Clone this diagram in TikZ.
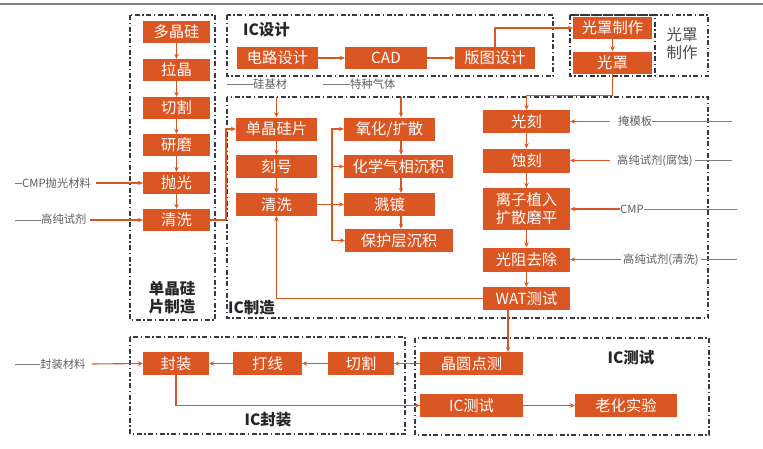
\documentclass[tikz,border=0pt]{standalone}
\usepackage{fontspec}
\setmainfont{Noto Sans CJK SC}
\usetikzlibrary{arrows.meta}
\definecolor{org}{RGB}{218,86,34}
\definecolor{dsh}{RGB}{55,58,70}
\definecolor{gry}{RGB}{95,95,95}
\begin{document}
\begin{tikzpicture}[x=1pt,y=-1pt,
  box/.style={fill=org,text=white,inner sep=0pt,font=\fontsize{15.3}{17}\selectfont,minimum height=23pt},
  region/.style={draw=dsh,line width=1.1pt,dash pattern=on 5pt off 2.5pt on 1.5pt off 2.5pt},
  arr/.style={draw=org,line width=1.1pt,-{Stealth[length=5pt,width=4.5pt]}},
  gl/.style={draw=gry!80,line width=0.8pt},
  inp/.style={text=gry,font=\fontsize{11.3}{12}\selectfont,inner sep=0pt},
  lab/.style={font=\bfseries\fontsize{15.5}{18}\selectfont,text=black!85,inner sep=0pt,align=center}]
\useasboundingbox (0,0) rectangle (763,448);
\fill[white] (0,0) rectangle (763,448);
% top rule
\coordinate (tl) at (0,4); \coordinate (tr) at (763,4);
\draw[gray,line width=1.6pt] (tl) -- (tr);

% dashed regions
\draw[region] (130,15) rectangle (215,320);
\draw[region] (227,15) rectangle (553,76);
\draw[region] (570,15) rectangle (708,76);
\draw[region,draw=black!80,line width=1.3pt] (570,15) rectangle (655,76);
\draw[region] (227,97) rectangle (708,318);
\draw[region] (130,337) rectangle (405,434);
\draw[region] (415,338) rectangle (709,435);

% labels
\node[lab] (l1) at (172,298) {单晶硅\\片制造};
\node[lab,anchor=west] (l2) at (243,30) {IC设计};
\node[inp,text=black!70,font=\fontsize{15.5}{18}\selectfont,align=center] (l3) at (682,44) {光罩\\制作};
\node[lab,anchor=west] (l4) at (228,308) {IC制造};
\node[lab] (l5) at (268,420) {IC封装};
\node[lab] (l6) at (631,358) {IC测试};

% single crystal column
\node[box,minimum width=67pt,minimum height=22pt] (pc1) at (176.5,32) {多晶硅};
\node[box,minimum width=67pt,minimum height=22pt] (pc2) at (176.5,70) {拉晶};
\node[box,minimum width=67pt,minimum height=22pt] (pc3) at (176.5,108) {切割};
\node[box,minimum width=67pt,minimum height=22pt] (pc4) at (176.5,145) {研磨};
\node[box,minimum width=67pt,minimum height=22pt] (pc5) at (176.5,183) {抛光};
\node[box,minimum width=67pt,minimum height=22pt] (pc6) at (176.5,220) {清洗};
\draw[arr] (pc1) -- (pc2);
\draw[arr] (pc2) -- (pc3);
\draw[arr] (pc3) -- (pc4);
\draw[arr] (pc4) -- (pc5);
\draw[arr] (pc5) -- (pc6);

% left inputs
\coordinate (g1) at (15,183);
\node[inp,anchor=west] (in1) at (22,183) {CMP抛光材料};
\draw[gl] (g1) -- (in1.west);
\draw[arr] ([xshift=5pt]in1.east) -- (pc5.west);
\coordinate (g2) at (15,220);
\node[inp,anchor=west] (in2) at (41,219) {高纯试剂};
\draw[gl] (g2) -- (in2.west |- g2);
\draw[arr] ([xshift=3pt]in2.east |- g2) -- (pc6.west);

% IC design
\node[box,minimum width=81pt,minimum height=22pt] (d1) at (277.5,58) {电路设计};
\node[box,minimum width=82pt,minimum height=22pt] (d2) at (386,58) {CAD};
\node[box,minimum width=80pt,minimum height=22pt] (d3) at (495,58) {版图设计};
\draw[arr] (d1) -- (d2);
\draw[arr] (d2) -- (d3);

% mask
\node[box,minimum width=79pt,minimum height=22pt] (m1) at (612.5,28) {光罩制作};
\node[box,minimum width=79pt,minimum height=22pt] (m2) at (612.5,62.5) {光罩};
\draw[arr] (d3.north) |- (m1.west);
\draw[arr] (m1) -- (m2);

% IC manufacturing column A
\node[box,minimum width=81pt] (a1) at (276.5,129) {单晶硅片};
\node[box,minimum width=81pt] (a2) at (276.5,166.5) {刻号};
\node[box,minimum width=81pt] (a3) at (276.5,204.5) {清洗};
\draw[arr] (a1) -- (a2);
\draw[arr] (a2) -- (a3);
\coordinate (j1) at (226,220);
\draw[org,line width=1.1pt] (pc6.east) -- (j1);
\draw[arr] (j1) |- (a1.west);

% substrate / gas inputs
\coordinate (s0) at (227,84);
\node[inp,anchor=west] (s1) at (253,84) {硅基材};
\draw[gl] (s0) -- (s1.west);
\coordinate (s2) at (276.5,97);
\draw[arr] (s2) -- (a1.north);
\coordinate (t0) at (323,84);
\node[inp,anchor=west] (t1) at (350,84) {特种气体};
\draw[gl] (t0) -- (t1.west);
\coordinate (t2) at (401,97);

% column B
\node[box,minimum width=91pt] (b1) at (389.5,129) {氧化/扩散};
\node[box,minimum width=109pt] (b2) at (398.5,166.5) {化学气相沉积};
\node[box,minimum width=91pt] (b3) at (389.5,204.5) {溅镀};
\node[box,minimum width=108pt] (b4) at (399,240.5) {保护层沉积};
\draw[arr] (t2) -- (t2 |- b1.north);
\coordinate (xb) at (401,0);
\draw[arr] (b1.south -| xb) -- (b2.north -| xb);
\draw[arr] (b2.south -| xb) -- (b3.north -| xb);
\draw[arr] (b3.south -| xb) -- (b4.north -| xb);
\coordinate (jb) at (332,204.5);
\draw[arr] (a3.east) -- (b3.west);
\draw[arr] (jb) |- (b1.west);
\draw[arr] (jb) |- (b2.west);
\draw[arr] (jb) |- (b4.west);

% column C
\node[box,minimum width=87pt] (c1) at (526.5,121.5) {光刻};
\node[box,minimum width=87pt,minimum height=24pt] (c2) at (526.5,160.5) {蚀刻};
\node[box,minimum width=87pt,minimum height=42pt,align=center,font=\fontsize{15.3}{18}\selectfont] (c3) at (526.5,209) {离子植入\\扩散磨平};
\node[box,minimum width=87pt,minimum height=24pt] (c4) at (526.5,259.5) {光阻去除};
\node[box,minimum width=87pt] (c5) at (526.5,298.5) {WAT测试};
\draw[arr] (m2.south) -- ++(0,22) -| (c1.north);
\draw[arr] (c1) -- (c2);
\draw[arr] (c2) -- (c3);
\draw[arr] (c3) -- (c4);
\draw[arr] (c4) -- (c5);
\draw[arr] (c5.west) -| (a3.south);

% right inputs
\node[inp,anchor=west] (r1) at (618,121.5) {掩模板};
\coordinate (re1) at (732,121.5);
\draw[arr] ([xshift=-8pt]r1.west) -- (c1.east);
\draw[gl] (r1.east) -- (re1);
\node[inp,anchor=west] (r2) at (617,160.5) {高纯试剂(腐蚀)};
\coordinate (re2) at (732,160.5);
\draw[arr] ([xshift=-7pt]r2.west) -- (c2.east);
\draw[gl] ([xshift=2pt]r2.east) -- (re2);
\node[inp,anchor=west] (r3) at (620,209) {CMP};
\coordinate (re3) at (737,209);
\draw[arr] (r3.west) -- (c3.east);
\draw[gl] (r3.east) -- (re3);
\node[inp,anchor=west] (r4) at (623,259.5) {高纯试剂(清洗)};
\coordinate (re4) at (737,259.5);
\draw[arr] ([xshift=-2pt]r4.west) -- (c4.east);
\draw[gl] ([xshift=2pt]r4.east) -- (re4);

% test and packaging
\node[box,minimum width=103pt] (w1) at (471.5,363.5) {晶圆点测};
\node[box,minimum width=103pt] (w2) at (471.5,405.5) {IC测试};
\node[box,minimum width=102pt] (w3) at (626,405.5) {老化实验};
\node[box,minimum width=66pt] (k1) at (361,363.5) {切割};
\node[box,minimum width=69pt] (k2) at (267.5,363.5) {打线};
\node[box,minimum width=66pt] (k3) at (176,363.5) {封装};
\coordinate (xw) at (508,0);
\draw[arr] (c5.south -| xw) -- (w1.north -| xw);
\draw[arr] (w1) -- (k1);
\draw[arr] (k1) -- (k2);
\draw[arr] (k2) -- (k3);
\draw[arr] (k3.south) |- (w2.west);
\draw[arr] (w2) -- (w3);
\coordinate (g3) at (15,364);
\node[inp,anchor=west] (in3) at (40,364) {封装材料};
\draw[gl] (g3) -- (in3.west);
\draw[arr] ([xshift=6pt]in3.east) -- (k3.west);
\end{tikzpicture}
\end{document}
